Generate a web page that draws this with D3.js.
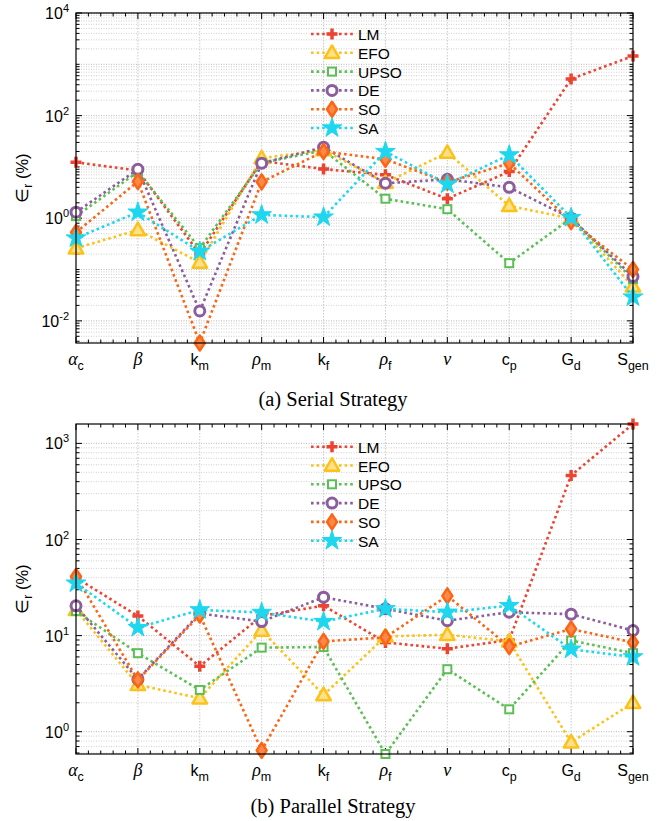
<html>
<head>
<style>
  body { margin: 0; background: #fff; }
  svg { font-family: "Liberation Sans", Arial, sans-serif; }
  .caption { font-family: "Liberation Serif", "Times New Roman", serif; font-size: 20.5px; }
</style>
<script src="https://cdnjs.cloudflare.com/ajax/libs/d3/7.8.5/d3.min.js"></script>
</head>
<body>
<script>
// categories (base, subscript, italic)
var catBase = ["α", "β", "k", "ρ", "k", "ρ", "ν", "c", "G", "S"];
var catSub  = ["c", "",  "m", "m", "f", "f", "",  "p", "d", "gen"];
var catItal = [true, true, false, true, false, true, true, false, false, false];

var seriesNames = ["LM", "EFO", "UPSO", "DE", "SO", "SA"];

// (a) serial strategy, relative error in %
var serialLM   = [12.3, 8.5, 0.2, 13, 9.1, 7.0, 2.4, 8.1, 518, 1453];
var serialEFO  = [0.26, 0.59, 0.137, 14.8, 21.4, 4.9, 19, 1.74, 0.99, 0.047];
var serialUPSO = [1.1, 8, 0.26, 12, 21, 2.4, 1.5, 0.133, 1.0, 0.065];
var serialDE   = [1.31, 9.0, 0.0156, 11.8, 24.2, 4.8, 5.75, 4.0, 1.0, 0.073];
var serialSO   = [0.53, 5.2, 0.0037, 5.1, 20, 14.1, 5, 11.8, 0.86, 0.10];
var serialSA   = [0.41, 1.31, 0.224, 1.16, 1.05, 19.9, 4.6, 17.1, 1.03, 0.029];

// (b) parallel strategy
var parLM   = [40, 16.0, 4.8, 16, 20.5, 8.5, 7.3, 9.0, 464, 1592];
var parEFO  = [18.5, 3.07, 2.23, 11.3, 2.41, 9.8, 10.2, 8.7, 0.776, 2.0];
var parUPSO = [18, 6.56, 2.72, 7.5, 7.6, 0.586, 4.47, 1.71, 8.9, 6.56];
var parDE   = [20.4, 3.5, 17, 14.0, 25.1, 19, 14.3, 17.5, 16.7, 11.3];
var parSO   = [41.2, 3.46, 16.4, 0.64, 8.7, 9.6, 25.9, 7.7, 11.7, 8.5];
var parSA   = [35.1, 12.1, 18.5, 17.4, 14.0, 19.0, 17.5, 20.5, 7.2, 6.0];

var serialLimits = [0.0037, 1e4];
var parLimits = [0.586, 1592];
var serialTickExps = [-2, 0, 2, 4];
var parTickExps = [0, 1, 2, 3];

var colors = ["#ec4432", "#fcc21a", "#5cbf55", "#8c5d9c", "#fb6515", "#1ed7ef"];
var markers = ["plus", "triangle", "square", "circle", "diamond", "star"];

var width = 662, height = 821;
var svg = d3.select("body").append("svg")
    .attr("width", width).attr("height", height);

var diamondPath = "M0,-7.5L5,0L0,7.5L-5,0Z";
var plusPath = "M-5.5,0H5.5M0,-5.5V5.5";

function drawMarker(g, type, color) {
    if (type == "plus") {
        g.append("path").attr("d", plusPath).attr("stroke", color).attr("stroke-width", 3.5).attr("fill", "none");
    } else if (type == "triangle") {
        g.append("path").attr("d", d3.symbol(d3.symbolTriangle, 90)())
            .attr("transform", "translate(0,1)")
            .attr("fill", "#fde08a").attr("stroke", color).attr("stroke-width", 2.5).attr("stroke-linejoin", "round");
    } else if (type == "square") {
        g.append("rect").attr("x", -4).attr("y", -4).attr("width", 8).attr("height", 8)
            .attr("fill", "#fff").attr("stroke", color).attr("stroke-width", 2);
    } else if (type == "circle") {
        g.append("circle").attr("r", 5).attr("fill", "#fff").attr("stroke", color).attr("stroke-width", 3);
    } else if (type == "diamond") {
        g.append("path").attr("d", diamondPath).attr("fill", "#fb8a4a")
            .attr("stroke", color).attr("stroke-width", 2.5).attr("stroke-linejoin", "round");
    } else if (type == "star") {
        g.append("path").attr("d", d3.symbol(d3.symbolStar, 120)())
            .attr("fill", color).attr("stroke", color).attr("stroke-width", 1);
    }
}

function drawPanel(top, bottom, limits, tickExps, data, caption, captionY, legendY) {
    var left = 76, right = 633;
    var x = d3.scalePoint().domain(d3.range(catBase.length)).range([left, right]);
    var y = d3.scaleLog().domain(limits).range([bottom, top]);

    var g = svg.append("g");
    var lo = Math.floor(Math.log10(limits[0])), hi = Math.ceil(Math.log10(limits[1]));
    var decades = [], minors = [];
    for (var e = lo; e <= hi; e++) {
        for (var m = 1; m < 10; m++) {
            var v = m * Math.pow(10, e);
            if (v < limits[0] * 0.999 || v > limits[1] * 1.001) continue;
            if (m == 1) decades.push(v); else minors.push(v);
        }
    }
    var labelled = tickExps.map(p => Math.pow(10, p));

    // grid
    g.selectAll(".minor").data(minors).enter().append("line")
        .attr("x1", left).attr("x2", right).attr("y1", d => y(d)).attr("y2", d => y(d))
        .attr("stroke", "#c4c4c4").attr("stroke-width", 0.8).attr("stroke-dasharray", "1,1.5");
    g.selectAll(".major").data(decades).enter().append("line")
        .attr("x1", left).attr("x2", right).attr("y1", d => y(d)).attr("y2", d => y(d))
        .attr("stroke", "#b0b0b0").attr("stroke-width", 0.9).attr("stroke-dasharray", "1,1.5");
    g.selectAll(".vgrid").data(d3.range(1, catBase.length - 1)).enter().append("line")
        .attr("x1", d => x(d)).attr("x2", d => x(d)).attr("y1", top).attr("y2", bottom)
        .attr("stroke", "#c4c4c4").attr("stroke-width", 0.9).attr("stroke-dasharray", "1.5,1.5");

    // ticks (inside, both sides)
    var step = x.step();
    var xticks = [];
    for (var i = 0; i < catBase.length; i++) {
        xticks.push({x: x(i), len: 6});
        if (i < catBase.length - 1) for (var k = 1; k < 5; k++) xticks.push({x: x(i) + step * k / 5, len: 3.5});
    }
    xticks.forEach(function (t) {
        g.append("line").attr("x1", t.x).attr("x2", t.x).attr("y1", bottom).attr("y2", bottom - t.len).attr("stroke", "#000");
        g.append("line").attr("x1", t.x).attr("x2", t.x).attr("y1", top).attr("y2", top + t.len).attr("stroke", "#000");
    });
    decades.concat(minors).forEach(function (v) {
        var len = labelled.some(l => Math.abs(l - v) / v < 1e-6) ? 6 : 3.5;
        g.append("line").attr("x1", left).attr("x2", left + len).attr("y1", y(v)).attr("y2", y(v)).attr("stroke", "#000");
        g.append("line").attr("x1", right).attr("x2", right - len).attr("y1", y(v)).attr("y2", y(v)).attr("stroke", "#000");
    });

    // series
    data.forEach(function (vals, si) {
        var line = d3.line().x((d, i) => x(i)).y(d => y(d));
        g.append("path").datum(vals).attr("d", line)
            .attr("fill", "none").attr("stroke", colors[si]).attr("stroke-width", 2.6)
            .attr("stroke-dasharray", "2.6,3");
        vals.forEach(function (v, i) {
            var mg = g.append("g").attr("transform", "translate(" + x(i) + "," + y(v) + ")");
            drawMarker(mg, markers[si], colors[si]);
        });
    });

    // box
    g.append("rect").attr("x", left).attr("y", top).attr("width", right - left).attr("height", bottom - top)
        .attr("fill", "none").attr("stroke", "#000").attr("stroke-width", 1.2);

    // y tick labels
    tickExps.forEach(function (p) {
        var t = g.append("text").attr("x", 69).attr("y", y(Math.pow(10, p)) + 6).attr("text-anchor", "end")
            .attr("font-size", 16);
        t.append("tspan").text("10");
        t.append("tspan").attr("dy", -7).attr("font-size", 11).text(p);
    });

    // x tick labels
    catBase.forEach(function (b, i) {
        var t = g.append("text").attr("x", x(i)).attr("y", bottom + 22).attr("text-anchor", "middle")
            .attr("font-size", 16);
        var bs = t.append("tspan").text(b);
        if (catItal[i]) bs.attr("font-family", "'Liberation Serif', serif").attr("font-style", "italic").attr("font-size", 18);
        if (catSub[i]) t.append("tspan").attr("dy", 5).attr("font-size", 12.5).text(catSub[i]);
    });

    // y label
    var yl = g.append("text")
        .attr("transform", "translate(28," + ((top + bottom) / 2) + ") rotate(-90)")
        .attr("text-anchor", "middle").attr("font-size", 16.5);
    yl.append("tspan").text("∈");
    yl.append("tspan").attr("dy", 4).attr("font-size", 12).text("r");
    yl.append("tspan").attr("dy", -4).text(" (%)");

    // legend
    seriesNames.forEach(function (name, si) {
        var ly = legendY + si * 18.8;
        g.append("line").attr("x1", 311).attr("x2", 353).attr("y1", ly).attr("y2", ly)
            .attr("stroke", colors[si]).attr("stroke-width", 2.6).attr("stroke-dasharray", "2.6,3");
        var mg = g.append("g").attr("transform", "translate(332," + ly + ")");
        drawMarker(mg, markers[si], colors[si]);
        g.append("text").attr("x", 358).attr("y", ly + 6).attr("font-size", 15.5).text(name);
    });

    svg.append("text").attr("class", "caption").attr("x", 333).attr("y", captionY)
        .attr("text-anchor", "middle").text(caption);
}

drawPanel(13, 343, serialLimits, serialTickExps,
    [serialLM, serialEFO, serialUPSO, serialDE, serialSO, serialSA],
    "(a) Serial Strategy", 406, 34);
drawPanel(424, 754, parLimits, parTickExps,
    [parLM, parEFO, parUPSO, parDE, parSO, parSA],
    "(b) Parallel Strategy", 813, 446.7);
</script>
</body>
</html>
